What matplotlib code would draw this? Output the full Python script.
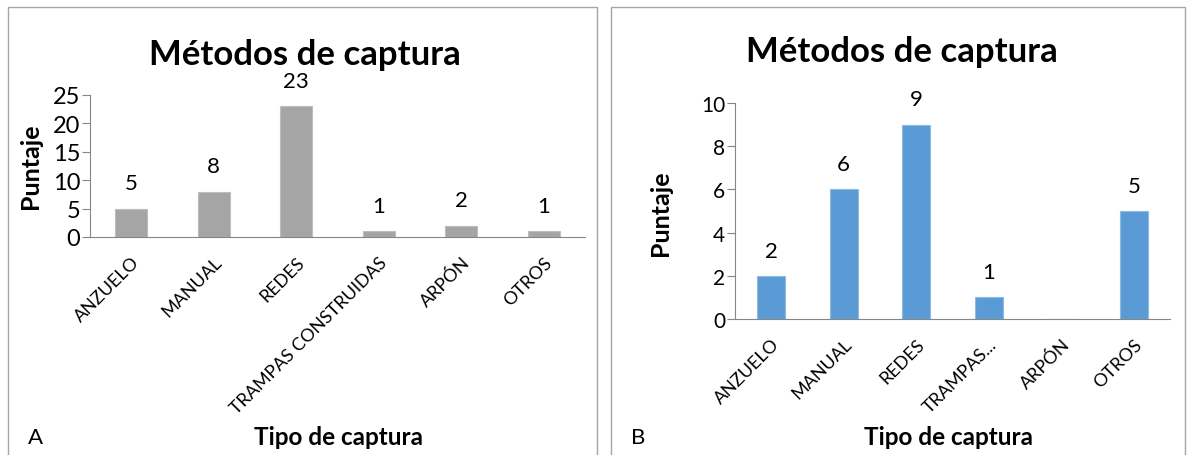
import matplotlib
matplotlib.use("Agg")
import matplotlib.pyplot as plt
from matplotlib.patches import Rectangle

plt.rcParams['font.family'] = ['Lato', 'DejaVu Sans']

# Data
categories_a = ["ANZUELO", "MANUAL", "REDES", "TRAMPAS CONSTRUIDAS", "ARPÓN", "OTROS"]
values_a = [5, 8, 23, 1, 2, 1]

categories_b = ["ANZUELO", "MANUAL", "REDES", "TRAMPAS...", "ARPÓN", "OTROS"]
values_b = [2, 6, 9, 1, 0, 5]

W, H, DPI = 1192, 456, 100
fig = plt.figure(figsize=(W / DPI, H / DPI), dpi=DPI)


def px_axes(x0, x1, ytop, ybot):
    return fig.add_axes([x0 / W, (H - ybot) / H, (x1 - x0) / W, (ybot - ytop) / H])


def panel_frame(x0, x1):
    fig.patches.append(Rectangle((x0 / W, -0.01), (x1 - x0) / W, (H - 8) / H + 0.01,
                                 transform=fig.transFigure, fill=False,
                                 edgecolor="#a6a6a6", linewidth=1.0))


def draw_panel(ax, cats, vals, color, edge, ymax, ystep, ytick_fs, xtick_fs, label_fs):
    x = list(range(len(cats)))
    bars = ax.bar(x, vals, width=0.39, color=color, edgecolor=edge,
                  linewidth=0.8, zorder=2)
    ax.set_xlim(-0.5, len(cats) - 0.5)
    ax.set_ylim(0, ymax)
    ax.set_yticks(range(0, ymax + 1, ystep))
    ax.tick_params(axis="y", labelsize=ytick_fs, length=6, color="#868686", pad=1)
    ax.set_xticks(x)
    ax.set_xticklabels(cats, rotation=45, ha="right", rotation_mode="anchor",
                       fontsize=xtick_fs)
    ax.tick_params(axis="x", length=0, pad=12)
    for s in ("top", "right"):
        ax.spines[s].set_visible(False)
    for s in ("left", "bottom"):
        ax.spines[s].set_color("#868686")
    for b, v in zip(bars, vals):
        if v > 0:
            ax.annotate(str(v), (b.get_x() + b.get_width() / 2, v),
                        xytext=(0, 11), textcoords="offset points",
                        ha="center", va="bottom", fontsize=label_fs)
    ax.set_facecolor("none")


# Panel A
panel_frame(8, 597)
ax1 = px_axes(90, 585, 96, 238)
draw_panel(ax1, categories_a, values_a, "#a5a5a5", "#bdbdbd", 25, 5, 17, 13, 16)
fig.text(305 / W, 1 - 55 / H, "Métodos de captura", ha="center", va="center",
         fontsize=25, fontweight="bold")
fig.text(31 / W, 1 - 166 / H, "Puntaje", ha="center", va="center",
         rotation=90, fontsize=18, fontweight="bold")
fig.text(338 / W, 1 - 438 / H, "Tipo de captura", ha="center", va="center",
         fontsize=17.5, fontweight="bold")
fig.text(36 / W, 1 - 438 / H, "A", ha="center", va="center", fontsize=16)

# Panel B
panel_frame(611, 1185)
ax2 = px_axes(735, 1170, 104, 320)
draw_panel(ax2, categories_b, values_b, "#5b9bd5", "#8fbbe3", 10, 2, 15, 13, 16)
fig.text(902 / W, 1 - 52 / H, "Métodos de captura", ha="center", va="center",
         fontsize=25, fontweight="bold")
fig.text(660 / W, 1 - 213 / H, "Puntaje", ha="center", va="center",
         rotation=90, fontsize=18, fontweight="bold")
fig.text(948 / W, 1 - 438 / H, "Tipo de captura", ha="center", va="center",
         fontsize=17.5, fontweight="bold")
fig.text(638 / W, 1 - 438 / H, "B", ha="center", va="center", fontsize=16)

fig.savefig("out.png", dpi=DPI, facecolor="white")
